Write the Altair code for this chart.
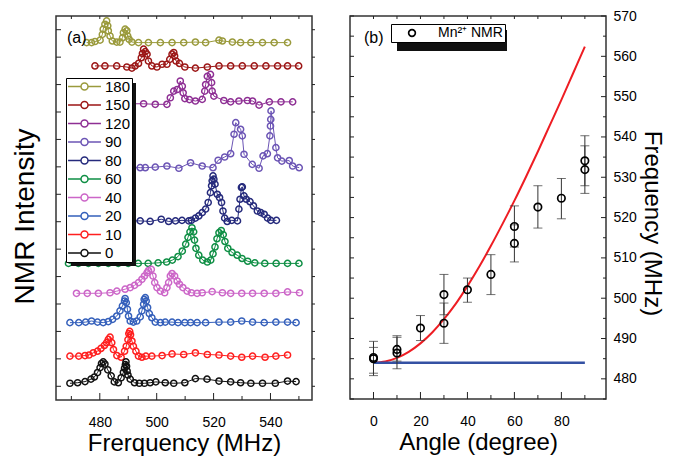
import altair as alt
import pandas as pd

FONT = "Liberation Sans"

# ---------------- Panel (a): NMR spectra ----------------
SERIES = ["180", "150", "120", "90", "80", "60", "40", "20", "10", "0"]
COLORS = ["#9a9a3c", "#9c1616", "#8e2f94", "#6c55b5", "#252a7c", "#0f8f45",
          "#cc66c8", "#3560bb", "#ff1f1f", "#111111"]
BASELINES = [12.53, 11.68, 10.30, 7.97, 6.03, 4.48, 3.39, 2.32, 1.10, 0.11]

F_180 = [475.35, 477.1, 478.3, 480.1, 480.9, 481.2, 481.8, 482.4, 482.8, 483.0, 483.6, 484.4,
         485.95, 487.1, 488.0, 488.3, 488.9, 489.5, 489.8, 490.3, 491.3, 493.6, 497.1, 501.3,
         505.4, 509.5, 513.6, 517.2, 521.9, 523.1, 526.6, 529.5, 533.1, 537.2, 541.3, 546.0]
D_180 = [0, 0, 0.04, 0.09, 0.3, 0.49, 0.67, 0.79, 0.61, 0.43, 0.24, 0.06,
         0.02, 0.02, 0.18, 0.36, 0.49, 0.43, 0.24, 0.12, 0.02, 0, 0, 0,
         0, 0, 0.02, 0, 0.09, 0.06, 0.02, 0, 0, 0, 0, 0]

F_150 = [478.3, 481.8, 485.95, 489.5, 491.3, 492.4, 493.6, 494.6, 495.0, 495.4, 496.0, 496.6,
         497.1, 498.3, 500.1, 501.9, 503.6, 504.6, 505.4, 506.0, 506.3, 506.8, 508.0, 509.9,
         513.6, 517.8, 521.9, 526.0, 530.1, 534.3, 538.4, 542.5, 546.0, 549.9]
D_150 = [0, 0, 0, -0.04, -0.08, 0, 0.09, 0.3, 0.45, 0.61, 0.52, 0.43,
         0.18, 0, -0.04, 0.06, 0.06, 0.24, 0.43, 0.49, 0.36, 0.18, 0.09, -0.04,
         -0.08, -0.04, 0, 0, 0, 0, 0, 0, 0, 0]

F_120 = [469.5, 473.0, 476.5, 480.0, 483.5, 487.0, 490.5, 495.4, 499.5, 503.6, 504.8, 506.0,
         507.2, 508.3, 509.0, 509.3, 509.9, 511.5, 513.6, 516.0, 516.9, 517.2, 517.8, 518.9,
         519.3, 519.5, 520.1, 523.6, 526.0, 528.9, 531.9, 533.7, 536.0, 539.6, 543.7, 547.8]
D_120 = [0, 0, 0, 0, 0, 0, 0, 0, -0.02, -0.02, 0.22, 0.46,
         0.52, 0.83, 0.64, 0.4, 0.19, 0.15, 0.1, 0.16, 0.46, 0.7, 1.0, 1.07,
         0.77, 0.46, 0.28, 0.12, 0.07, 0.1, 0.12, 0.1, -0.05, 0.07, 0.07, 0.07]

F_90 = [469.5, 473.0, 476.5, 480.0, 483.5, 487.0, 490.5, 494.2, 496.0, 499.5, 503.6, 507.8,
        511.9, 516.0, 519.8, 521.6, 523.9, 526.0, 527.2, 527.8, 529.5, 530.1, 530.7, 533.6,
        536.0, 537.4, 538.9, 539.8, 540.0, 540.1, 540.2, 541.9, 542.5, 544.0, 546.6, 547.8, 550.1]
D_90 = [0, 0, 0, 0, 0, 0, 0, 0, 0, 0.02, 0.06, -0.02,
        0.18, 0.06, 0, 0.27, 0.39, 0.51, 1.22, 1.64, 1.4, 1.16, 0.49, 0.12,
        -0.02, 0.43, 0.51, 1.16, 1.52, 1.76, 2.07, 0.73, 0.36, 0.24, 0.26, 0.06, 0]

F_80 = [469.5, 473.0, 476.5, 480.0, 483.5, 487.0, 490.5, 494.2, 497.7, 501.6, 504.2, 506.6,
        508.9, 511.3, 512.2, 513.6, 514.8, 516.0, 517.2, 518.1, 518.9, 519.3, 519.5, 519.8,
        520.1, 520.5, 521.3, 522.1, 522.8, 523.3, 523.9, 524.8, 526.4, 528.4, 528.9, 529.3,
        529.8, 530.1, 530.7, 531.5, 532.8, 534.0, 535.4, 536.6, 537.8, 539.0, 540.1, 542.1]
D_80 = [0, 0, 0, 0, 0, 0, 0, 0, -0.02, 0.06, -0.02, 0,
        0.02, 0, 0.02, 0.1, 0.18, 0.3, 0.43, 0.67, 1.03, 1.28, 1.46, 1.64,
        1.52, 1.34, 0.97, 0.85, 0.67, 0.36, 0.1, -0.02, 0.02, 0, 0.43, 0.79,
        1.22, 1.24, 0.91, 0.79, 0.7, 0.55, 0.36, 0.3, 0.24, 0.1, 0.02, 0.02]

F_60 = [469.0, 472.5, 476.0, 479.5, 483.0, 486.5, 490.0, 493.5, 497.0, 500.5, 503.5, 505.5,
        507.5, 509.0, 510.2, 511.0, 511.7, 512.4, 513.0, 513.3, 513.8, 514.8, 516.2, 517.8,
        519.0, 519.8, 520.5, 521.2, 521.9, 522.7, 523.4, 524.0, 525.0, 526.5, 528.3, 530.0,
        532.0, 534.5, 538.0, 542.0, 546.0, 550.0]
D_60 = [0, 0, 0, 0, 0, 0, 0, 0, 0, 0.02, 0.05, 0.12,
        0.25, 0.45, 0.7, 0.95, 1.15, 1.3, 1.15, 0.85, 0.55, 0.3, 0.12, 0.05,
        0.12, 0.35, 0.6, 0.9, 1.12, 1.2, 1.05, 0.8, 0.55, 0.4, 0.3, 0.18,
        0.08, 0.02, 0, 0, 0, 0]

F_40 = [471.8, 475.6, 479.5, 483.6, 486.0, 488.9, 490.7, 492.2, 493.6, 494.8, 495.7, 496.6,
        497.1, 498.1, 498.7, 499.3, 500.1, 501.3, 502.8, 503.6, 504.2, 504.8, 505.4, 506.3,
        507.2, 508.0, 509.2, 510.7, 512.2, 514.2, 516.0, 519.5, 523.1, 526.0, 529.9, 533.7,
        537.8, 541.9, 546.0, 550.2]
D_40 = [0, 0, 0, 0.02, 0.08, 0.15, 0.21, 0.29, 0.39, 0.51, 0.63, 0.75,
        0.83, 0.87, 0.63, 0.39, 0.21, 0.08, 0.02, 0.21, 0.39, 0.63, 0.72, 0.63,
        0.45, 0.33, 0.21, 0.08, 0.02, 0, 0.02, 0.06, 0.02, 0, 0, 0,
        0, 0, 0.05, 0.02]

F_20 = [469.5, 472.6, 475.0, 477.1, 479.2, 481.2, 483.0, 484.5, 485.95, 487.1, 487.96, 488.7,
        488.9, 489.3, 489.7, 490.1, 490.7, 491.8, 493.0, 494.2, 494.8, 495.4, 495.6, 496.0,
        496.3, 496.8, 497.4, 498.3, 499.5, 501.3, 503.0, 505.4, 507.5, 509.9, 511.9, 514.2,
        517.2, 521.9, 526.0, 529.9, 533.7, 537.8, 541.9, 546.0, 549.0]
D_20 = [0, 0, 0.02, 0.06, 0.02, 0, 0.04, 0.12, 0.24, 0.43, 0.61, 0.79,
        0.88, 0.73, 0.49, 0.24, 0.06, 0.02, 0.06, 0.21, 0.43, 0.67, 0.85, 0.91,
        0.79, 0.55, 0.33, 0.18, 0.02, 0, 0.02, 0.02, 0, 0, 0, 0,
        0, 0.02, 0.02, 0.06, 0.02, 0, 0.02, 0.02, 0]

F_10 = [469.5, 472.6, 474.8, 476.2, 477.7, 479.2, 480.4, 481.6, 482.4, 483.0, 483.6, 484.2,
        484.8, 486.0, 487.5, 488.7, 489.3, 489.9, 490.2, 490.5, 490.8, 491.3, 491.8, 492.7,
        493.6, 494.8, 496.2, 498.3, 501.9, 505.4, 509.5, 513.6, 517.8, 521.9, 526.0, 529.9,
        533.7, 538.1, 541.9, 546.0]
D_10 = [0, 0, 0.02, 0.04, 0.12, 0.18, 0.28, 0.39, 0.49, 0.61, 0.69, 0.49,
        0.24, 0.02, -0.04, 0.18, 0.36, 0.6, 0.82, 0.9, 0.78, 0.55, 0.36, 0.18,
        0, -0.04, 0, 0, 0.02, 0.08, 0.06, 0.12, 0.06, 0.04, 0, -0.04,
        0, -0.04, 0, 0.04]

F_0 = [469.5, 472.2, 474.8, 476.9, 478.1, 479.2, 480.1, 480.6, 481.2, 481.8, 482.8, 484.0,
       485.1, 486.5, 487.5, 488.3, 488.7, 489.0, 489.2, 489.4, 489.6, 489.9, 490.7, 492.2,
       493.9, 495.7, 497.7, 499.7, 503.0, 506.0, 509.9, 513.6, 517.7, 521.9, 526.0, 529.5,
       533.1, 537.2, 541.7, 546.0, 549.0]
D_0 = [0, 0.02, 0.06, 0.15, 0.23, 0.39, 0.57, 0.72, 0.78, 0.7, 0.49, 0.27,
       0.05, 0.02, 0.2, 0.4, 0.55, 0.68, 0.78, 0.62, 0.45, 0.3, 0.15, 0.02,
       0, 0, 0.02, 0.05, 0.02, 0, 0.02, 0.17, 0.15, 0.08, 0.05, 0.02,
       0, 0, 0, 0.08, 0.06]

TRACES = [(F_180, D_180), (F_150, D_150), (F_120, D_120), (F_90, D_90), (F_80, D_80),
          (F_60, D_60), (F_40, D_40), (F_20, D_20), (F_10, D_10), (F_0, D_0)]

A_XTICK_MAJOR = [480, 500, 520, 540]
A_XTICK_MINOR = [470, 490, 510, 530, 550]
A_XTICK_TOP = [470, 480, 490, 500, 510, 520, 530, 540, 550]
A_YTICK = list(range(14))

# ---------------- Panel (b): angle dependence ----------------
ANGLE = [0, 0, 10, 10, 20, 30, 30, 40, 50, 60, 60, 70, 80, 90, 90]
NMR = [485.3, 485.0, 487.3, 486.4, 492.6, 500.9, 493.8, 502.1, 505.9, 517.8, 513.6, 522.6,
       524.8, 534.1, 531.9]
ERR_LO = [481.4, 480.8, 484.4, 482.5, 489.5, 495.9, 488.8, 499.0, 500.9, 512.7, 509.0, 517.4,
          519.7, 527.9, 526.0]
ERR_HI = [489.3, 487.8, 490.7, 490.3, 495.7, 505.9, 498.8, 505.0, 510.8, 522.9, 518.2, 527.9,
          529.7, 540.3, 537.8]
LEGEND_B = "Mn\u00b2\u207a NMR"

MODEL_ANGLE = [0, 5, 10, 15, 20, 25, 30, 35, 40, 45, 50, 55, 60, 65, 70, 75, 80, 85, 90]
MODEL_FREQ = [484.0, 484.3, 485.2, 486.7, 488.8, 491.5, 494.8, 498.6, 503.0, 507.8, 513.0,
              518.5, 524.2, 530.2, 536.4, 542.8, 549.2, 555.8, 562.4]
BASE_ANGLE = [0, 90]
BASE_FREQ = [484.0, 484.0]

B_XTICK_MAJOR = [0, 20, 40, 60, 80]
B_XTICK_MINOR = [10, 30, 50, 70, 90]
B_XTICK_TOP = [0, 10, 20, 30, 40, 50, 60, 70, 80, 90]
B_YTICK_MAJOR = [480, 490, 500, 510, 520, 530, 540, 550, 560, 570]
B_YTICK_MINOR = [475, 485, 495, 505, 515, 525, 535, 545, 555, 565]

# ---------------- build tables ----------------
rows = []
for name, base, (fs, ds) in zip(SERIES, BASELINES, TRACES):
    assert len(fs) == len(ds), name
    for i, (f, d) in enumerate(zip(fs, ds)):
        rows.append({"angle": name, "f": f, "y": base + d, "i": i})
spectra = pd.DataFrame(rows)

points_b = pd.DataFrame({"a": ANGLE, "v": NMR, "lo": ERR_LO, "hi": ERR_HI,
                         "label": [LEGEND_B] * len(ANGLE)})
model_b = pd.DataFrame({"a": MODEL_ANGLE, "v": MODEL_FREQ})
base_b = pd.DataFrame({"a": BASE_ANGLE, "v": BASE_FREQ})

W, H = 256, 384
HB = 383
SPACING = 31
TICKC = "#222222"

# ---------------- Panel (a) ----------------
def xa():
    return alt.X("f:Q", scale=alt.Scale(domain=[464.6, 554.6], nice=False, zero=False),
                 axis=alt.Axis(values=A_XTICK_MAJOR, title="Frerquency (MHz)", ticks=False,
                               tickSize=0, domain=False, grid=False, labelPadding=15,
                               titlePadding=2))

def ya():
    return alt.Y("y:Q", scale=alt.Scale(domain=[-0.5, 13.5], nice=False, zero=False),
                 axis=alt.Axis(title="NMR Intensity", labels=False, ticks=False, tickSize=0,
                               domain=False, grid=False, titlePadding=17, titleFontSize=28,
                               titleY=200))

sym_path = "M-4.7,0L-1,0M1,0L4.7,0M-1,0A1,1,0,1,1,1,0A1,1,0,1,1,-1,0"

color_a = alt.Color("angle:N", scale=alt.Scale(domain=SERIES, range=COLORS),
                    legend=alt.Legend(title=None, orient="none", legendX=10, legendY=62,
                                      symbolType=sym_path, symbolSize=49,
                                      symbolStrokeWidth=1.5, labelFontSize=15,
                                      labelFont=FONT, labelColor="black", labelOffset=13,
                                      symbolOffset=10, rowPadding=2.5, padding=1,
                                      fillColor="white", strokeColor="black",
                                      cornerRadius=0))

spec = alt.Chart(spectra).encode(x=xa(), y=ya(), color=color_a, detail="angle:N",
                                 order="i:Q")
lines_a = spec.mark_line(strokeWidth=1)
pts_a = spec.mark_point(filled=False, size=38, strokeWidth=1.5, opacity=1)


def vticks(values, field, xenc, y0, y1):
    return alt.Chart(pd.DataFrame({field: values})).mark_rule(
        color=TICKC, strokeWidth=1).encode(x=xenc, y=alt.value(y0), y2=alt.value(y1))


def hticks(values, field, yenc, x0, x1):
    return alt.Chart(pd.DataFrame({field: values})).mark_rule(
        color=TICKC, strokeWidth=1).encode(y=yenc, x=alt.value(x0), x2=alt.value(x1))


one = pd.DataFrame({"k": [0]})
shadow_a = alt.Chart(one).mark_rect(color="#111111").encode(
    x=alt.value(15), x2=alt.value(80), y=alt.value(67), y2=alt.value(250))
label_a = alt.Chart(one).mark_text(text="(a)", fontSize=16, font=FONT, align="left",
                                   baseline="middle", color="black").encode(
    x=alt.value(11), y=alt.value(22))

panel_a = alt.layer(
    lines_a, pts_a,
    vticks(A_XTICK_MAJOR, "f", xa(), H, H - 7),
    vticks(A_XTICK_MINOR, "f", xa(), H, H - 4),
    vticks(A_XTICK_TOP, "f", xa(), 0, 3),
    hticks(A_YTICK, "y", ya(), 0, 5),
    hticks(A_YTICK, "y", ya(), W, W + 3),
    shadow_a, label_a,
).properties(width=W, height=H)

# ---------------- Panel (b) ----------------
def xb():
    return alt.X("a:Q", scale=alt.Scale(domain=[-10, 99], nice=False, zero=False),
                 axis=alt.Axis(values=B_XTICK_MAJOR, title="Angle (degree)", ticks=False,
                               tickSize=0, domain=False, grid=False, labelPadding=15,
                               titlePadding=2))

def yb(field="v"):
    return alt.Y(f"{field}:Q", scale=alt.Scale(domain=[475, 570], nice=False, zero=False),
                 axis=alt.Axis(orient="right", values=B_YTICK_MAJOR, title="Frequency (MHz)",
                               ticks=False, tickSize=0, domain=False, grid=False,
                               labelPadding=7, titlePadding=3, titleFontSize=24,
                               titleY=207))

model_line = alt.Chart(model_b).mark_line(color="#ee1d23", strokeWidth=2,
                                          interpolate="monotone").encode(x=xb(), y=yb())
base_line = alt.Chart(base_b).mark_line(color="#3451a3", strokeWidth=2.5).encode(
    x=xb(), y=yb())
err_rule = alt.Chart(points_b).mark_rule(color="#333333", strokeWidth=1).encode(
    x=xb(), y=yb("lo"), y2="hi:Q")
cap_lo = alt.Chart(points_b).mark_tick(orient="horizontal", size=9, thickness=1,
                                       color="#333333").encode(x=xb(), y=yb("lo"))
cap_hi = alt.Chart(points_b).mark_tick(orient="horizontal", size=9, thickness=1,
                                       color="#333333").encode(x=xb(), y=yb("hi"))
pts_b = alt.Chart(points_b).mark_point(filled=False, size=55, strokeWidth=1.7,
                                       color="black", opacity=1).encode(
    x=xb(), y=yb(),
    shape=alt.Shape("label:N", scale=alt.Scale(domain=[LEGEND_B], range=["circle"]),
                    legend=alt.Legend(title=None, orient="none",
                                      legendX=W + SPACING + 48, legendY=8,
                                      symbolSize=45, symbolStrokeWidth=1.7,
                                      symbolStrokeColor="black", labelFontSize=14,
                                      labelFont=FONT, labelColor="black", labelOffset=19,
                                      symbolOffset=12, padding=2, fillColor="white",
                                      strokeColor="black", cornerRadius=0)))
shadow_b = alt.Chart(one).mark_rect(color="#111111").encode(
    x=alt.value(47), x2=alt.value(157), y=alt.value(14), y2=alt.value(35))
label_b = alt.Chart(one).mark_text(text="(b)", fontSize=16, font=FONT, align="left",
                                   baseline="middle", color="black").encode(
    x=alt.value(14), y=alt.value(22))

panel_b = alt.layer(
    model_line, base_line, err_rule, cap_lo, cap_hi, pts_b,
    vticks(B_XTICK_MAJOR, "a", xb(), HB, HB - 7),
    vticks(B_XTICK_MINOR, "a", xb(), HB, HB - 4),
    vticks(B_XTICK_TOP, "a", xb(), 0, 3),
    hticks(B_YTICK_MAJOR + B_YTICK_MINOR, "v", yb(), 0, 4),
    hticks(B_YTICK_MAJOR, "v", yb(), W - 5, W),
    hticks(B_YTICK_MINOR, "v", yb(), W - 3, W),
    shadow_b, label_b,
).properties(width=W, height=HB)

chart = alt.hconcat(panel_a, panel_b, spacing=SPACING).properties(
    padding={"left": 2, "top": 0, "right": 6, "bottom": 0}
).configure(font=FONT).configure_view(
    stroke="#333333", strokeWidth=1.5
).configure_axis(
    labelFontSize=14, titleFontSize=24, labelFont=FONT, titleFont=FONT,
    labelColor="black", titleColor="black", titleFontWeight="normal"
).configure_legend(strokeWidth=1)

chart.save("out.html", embed_options={"renderer": "svg", "actions": False})
